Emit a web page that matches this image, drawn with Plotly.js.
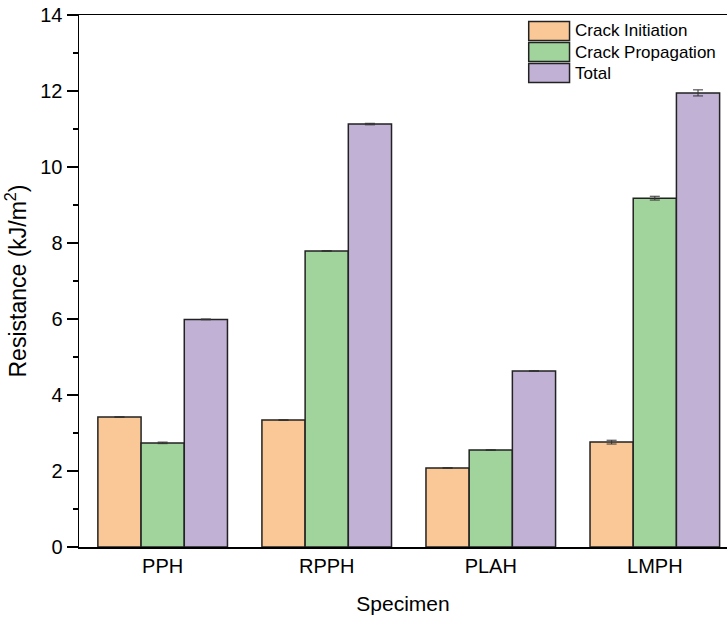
<!DOCTYPE html>
<html><head><meta charset="utf-8">
<script src="https://cdn.plot.ly/plotly-3.0.1.min.js"></script>
<style>html,body{margin:0;padding:0;background:#fff}</style>
</head><body><div id="chart" style="width:727px;height:621px"></div>
<script>
const categories = ["PPH", "RPPH", "PLAH", "LMPH"];
const seriesNames = ["Crack Initiation", "Crack Propagation", "Total"];
const initiation = [3.42, 3.34, 2.08, 2.76];
const initiationErr = [0.01, 0.01, 0.01, 0.05];
const propagation = [2.74, 7.79, 2.55, 9.18];
const propagationErr = [0.02, 0.01, 0.01, 0.05];
const total = [5.99, 11.13, 4.63, 11.95];
const totalErr = [0.01, 0.02, 0.01, 0.08];
const colors = ["#F9C896", "#A1D39C", "#C1B2D5"];

(function () {
const vals = [initiation, propagation, total];
const errs = [initiationErr, propagationErr, totalErr];
const font = "Liberation Sans, Arial, sans-serif";

const data = vals.map((v, i) => ({
  type: "bar", x: categories, y: v, name: seriesNames[i],
  marker: {color: colors[i], line: {color: "#222", width: 1.5}},
  error_y: {type: "data", array: errs[i], visible: true, color: "#333", thickness: 1, width: 5},
  showlegend: false
}));

const shapes = [];
const annotations = [];
const boxX0 = 0.694, boxX1 = 0.757, rowH = 0.0357, legTop = 0.988;
seriesNames.forEach((n, i) => {
  const y1 = legTop - i * (rowH + 0.004), y0 = y1 - rowH;
  shapes.push({type: "rect", xref: "paper", yref: "paper", x0: boxX0, x1: boxX1, y0: y0, y1: y1,
    fillcolor: colors[i], line: {color: "#222", width: 1.5}});
  annotations.push({xref: "paper", yref: "paper", x: boxX1 + 0.006, y: (y0 + y1) / 2, text: n,
    showarrow: false, xanchor: "left", yanchor: "middle", font: {family: font, size: 17, color: "#000"}});
});

const layout = {
  width: 727, height: 621,
  margin: {l: 79, r: 0, t: 15, b: 74},
  paper_bgcolor: "#fff", plot_bgcolor: "#fff",
  barmode: "group", bargap: 0.21, bargroupgap: 0,
  font: {family: font, color: "#000"},
  xaxis: {
    type: "category", range: [-0.51, 3.44],
    showline: true, linecolor: "#000", linewidth: 1.5, mirror: true,
    ticks: "", tickfont: {size: 20}, showgrid: false, zeroline: false,
    title: {text: "Specimen", font: {size: 21}, standoff: 21}
  },
  yaxis: {
    range: [0, 14], dtick: 2, tick0: 0,
    showline: true, linecolor: "#000", linewidth: 1.5,
    ticks: "outside", ticklen: 11, tickwidth: 1.5, tickcolor: "#000",
    minor: {dtick: 1, ticks: "outside", ticklen: 5, tickwidth: 1.5, tickcolor: "#000"},
    tickfont: {size: 20}, showgrid: false, zeroline: false,
    title: {text: "Resistance (kJ/m<sup>2</sup>)", font: {size: 23}, standoff: 7}
  },
  shapes: shapes, annotations: annotations, showlegend: false
};
Plotly.newPlot("chart", data, layout, {staticPlot: true});
})();
</script></body></html>
